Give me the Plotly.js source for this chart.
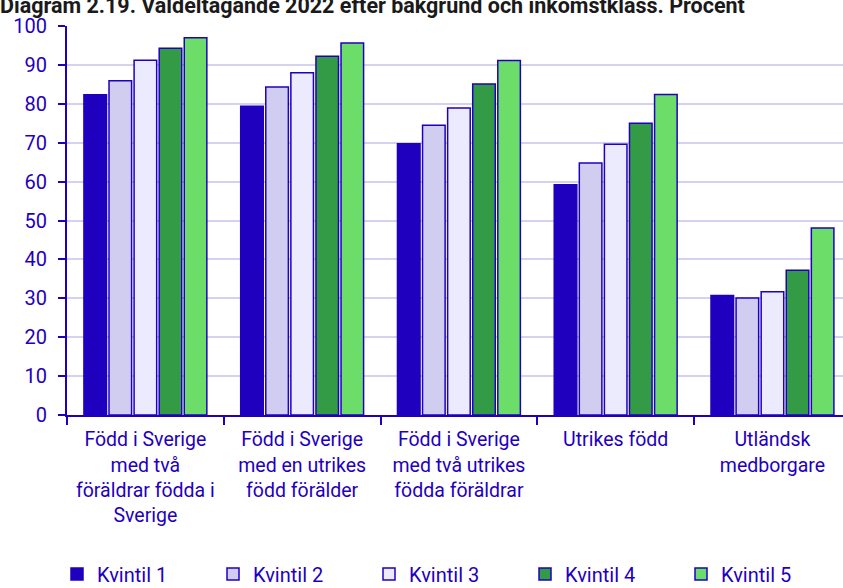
<!DOCTYPE html>
<html>
<head>
<meta charset="utf-8">
<script src="https://cdn.plot.ly/plotly-3.0.1.min.js"></script>
<style>
  html, body { margin: 0; padding: 0; background: #fff; }
  #chart { width: 843px; height: 588px; }
</style>
</head>
<body>
<div id="chart"></div>
<script>
// Kategorier (bakgrund)
const categories = [
    'Född i Sverige<br>med två<br>föräldrar födda i<br>Sverige',
    'Född i Sverige<br>med en utrikes<br>född förälder',
    'Född i Sverige<br>med två utrikes<br>födda föräldrar',
    'Utrikes född',
    'Utländsk<br>medborgare'
];
const seriesNames = ['Kvintil 1', 'Kvintil 2', 'Kvintil 3', 'Kvintil 4', 'Kvintil 5'];

// Valdeltagande i procent per inkomstkvintil
const kvintil1 = [82.3, 79.4, 69.7, 59.2, 30.7];
const kvintil2 = [85.9, 84.3, 74.5, 64.8, 30.1];
const kvintil3 = [91.2, 88.0, 78.9, 69.6, 31.7];
const kvintil4 = [94.3, 92.2, 85.1, 75.0, 37.2];
const kvintil5 = [97.0, 95.6, 91.1, 82.4, 48.1];

const yTicks = [0, 10, 20, 30, 40, 50, 60, 70, 80, 90, 100];

const blue = '#1f00bf';
const fills = ['#1f00bf', '#d1cdf0', '#ecebfd', '#339a45', '#6ddd69'];
const values = [kvintil1, kvintil2, kvintil3, kvintil4, kvintil5];

const traces = values.map((v, i) => ({
    x: categories,
    y: v,
    type: 'bar',
    name: seriesNames[i],
    marker: { color: fills[i], line: { color: blue, width: 1.5 } },
    hoverinfo: 'y+name'
}));

const layout = {
    width: 843,
    height: 588,
    margin: { l: 67, r: 0, t: 26, b: 173, autoexpand: false },
    paper_bgcolor: '#fff',
    plot_bgcolor: '#fff',
    font: { family: 'Roboto, sans-serif', size: 20, color: blue },
    title: {
        text: 'Diagram 2.19. Valdeltagande 2022 efter bakgrund och inkomstklass. Procent',
        font: { family: 'Roboto, sans-serif', size: 21.5, color: '#1a1a1a', weight: 'bold' },
        x: 0, xref: 'container', xanchor: 'left',
        y: 1 - 5 / 588, yref: 'container', yanchor: 'middle'
    },
    barmode: 'group',
    bargap: 0.2,
    bargroupgap: 0.1,
    xaxis: {
        type: 'category',
        range: [-0.5, 4.45],
        showline: true, linecolor: blue, linewidth: 2,
        ticks: 'outside', tickson: 'boundaries', ticklen: 8, tickwidth: 2, tickcolor: blue,
        ticklabelstandoff: 6,
        showgrid: false,
        tickfont: { size: 19.5, color: blue },
        fixedrange: true
    },
    yaxis: {
        range: [0, 100],
        tickvals: yTicks,
        showline: true, linecolor: blue, linewidth: 2,
        ticks: 'outside', ticklen: 7, tickwidth: 2, tickcolor: blue,
        ticklabelstandoff: 7,
        showgrid: true, gridcolor: '#d4d2f0', gridwidth: 2,
        zeroline: false,
        tickfont: { size: 20, color: blue },
        fixedrange: true
    },
    showlegend: true,
    legend: {
        orientation: 'h',
        x: -10 / 776, xanchor: 'left',
        y: -159 / 389, yanchor: 'middle',
        entrywidth: 111,
        font: { size: 20, color: blue },
        traceorder: 'normal'
    }
};

Plotly.newPlot('chart', traces, layout, { displayModeBar: false, staticPlot: true });
</script>
</body>
</html>
